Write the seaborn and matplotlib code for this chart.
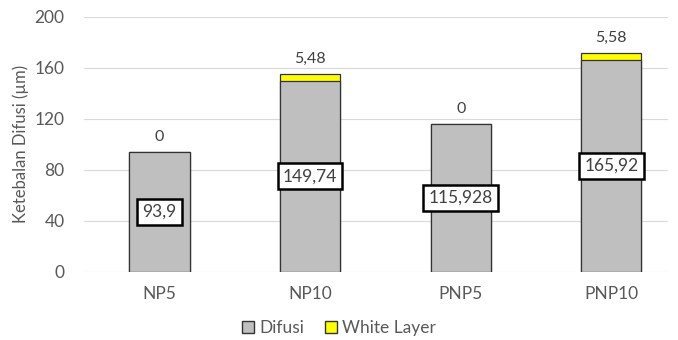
from matplotlib import pyplot as plt
from matplotlib.patches import Patch
import seaborn as sns
import pandas as pd

sns.set_style("white")
plt.rcParams['font.family'] = ['Lato', 'DejaVu Sans']

# Data
samples = ["NP5", "NP10", "PNP5", "PNP10"]
difusi = [93.9, 149.74, 115.928, 165.92]
white_layer = [0, 5.48, 0, 5.58]
difusi_labels = ["93,9", "149,74", "115,928", "165,92"]
white_labels = ["0", "5,48", "0", "5,58"]

df = pd.DataFrame({"Sample": samples, "Difusi": difusi, "White Layer": white_layer})
df["Total"] = df["Difusi"] + df["White Layer"]

fig = plt.figure(figsize=(6.78, 3.4), dpi=100)
ax = fig.add_axes([0.124, 0.201, 0.861, 0.750])

text_col = '#595959'

# stacked: total (yellow) underneath, difusi (grey) on top
sns.barplot(data=df, x="Sample", y="Total", color='#FFFF00', width=0.4,
            edgecolor='#333333', linewidth=0.9, saturation=1, ax=ax)
sns.barplot(data=df, x="Sample", y="Difusi", color='#BFBFBF', width=0.4,
            edgecolor='#333333', linewidth=0.9, saturation=1, ax=ax)

# labels
for i in range(len(samples)):
    ax.text(i, difusi[i] / 2, difusi_labels[i], ha='center', va='center',
            fontsize=12.5, color='#404040',
            bbox=dict(boxstyle='square,pad=0.3', facecolor='white',
                      edgecolor='black', linewidth=1.8))
    ax.text(i, df["Total"][i] + 6, white_labels[i], ha='center', va='bottom',
            fontsize=11.5, color='#404040')

ax.set_ylim(0, 200)
ax.set_yticks(range(0, 201, 40))
ax.set_xlim(-0.5, 3.375)
ax.yaxis.grid(True, color='#D9D9D9', linewidth=0.8)
ax.set_axisbelow(True)
for s in ax.spines.values():
    s.set_visible(False)
ax.tick_params(axis='both', length=0, labelsize=12.5, colors=text_col)
ax.tick_params(axis='y', pad=14)
ax.tick_params(axis='x', pad=10)
ax.set_xlabel("")
ax.set_ylabel("Ketebalan Difusi (µm)", fontsize=12, color=text_col, labelpad=4)

handles = [Patch(facecolor='#BFBFBF', edgecolor='#333333', label='Difusi'),
           Patch(facecolor='#FFFF00', edgecolor='#333333', label='White Layer')]
fig.legend(handles=handles, loc='center', bbox_to_anchor=(0.5, 0.035), ncol=2,
           frameon=False, fontsize=12.5, labelcolor=text_col, handlelength=0.7,
           handleheight=0.7, handletextpad=0.3, columnspacing=1.2)

plt.savefig('out.png', dpi=100)
